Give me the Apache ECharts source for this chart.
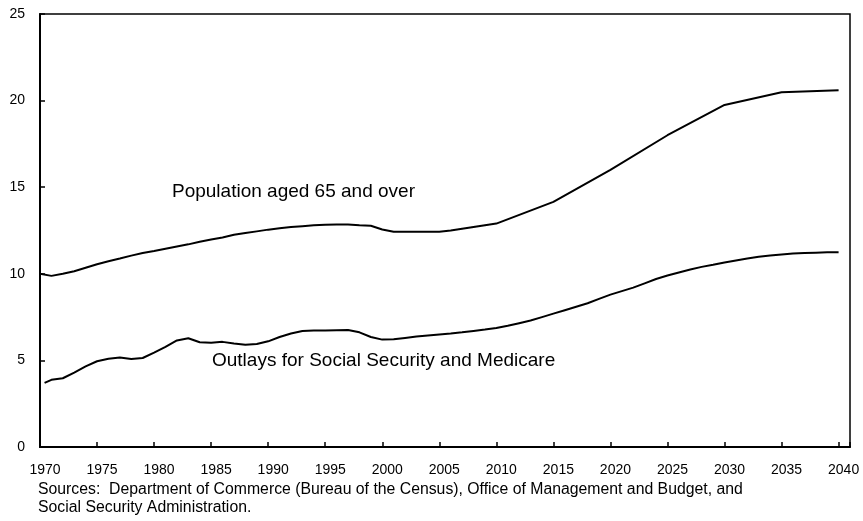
<!DOCTYPE html>
<html>
<head>
<meta charset="utf-8">
<script src="https://cdn.jsdelivr.net/npm/echarts@6/dist/echarts.min.js"></script>
<style>
html,body{margin:0;padding:0;background:#fff;}
#chart{width:863px;height:521px;}
</style>
</head>
<body>
<div id="chart"></div>
<script>
// Population aged 65 and over (percent)
const popYears = [1970,1971,1972,1973,1974,1975,1976,1977,1978,1979,1980,1981,1982,1983,1984,1985,1986,1987,1988,1989,1990,1991,1992,1993,1994,1995,1996,1997,1998,1999,2000,2001,2002,2003,2004,2005,2006,2007,2008,2009,2010,2015,2020,2025,2030,2035,2040];
const popValues = [10.0,9.88,10.0,10.15,10.35,10.55,10.72,10.88,11.05,11.2,11.32,11.45,11.58,11.7,11.85,11.98,12.1,12.25,12.35,12.45,12.55,12.63,12.7,12.75,12.8,12.83,12.85,12.84,12.8,12.77,12.56,12.43,12.43,12.43,12.43,12.43,12.5,12.6,12.7,12.8,12.9,14.15,16.0,18.0,19.75,20.48,20.6];

// Outlays for Social Security and Medicare (percent)
const outYears = [1970.4,1971,1972,1973,1974,1975,1976,1977,1978,1979,1980,1981,1982,1983,1984,1985,1986,1987,1988,1989,1990,1991,1992,1993,1994,1995,1996,1997,1998,1999,2000,2001,2002,2003,2004,2005,2006,2007,2008,2009,2010,2011,2012,2013,2014,2015,2016,2017,2018,2019,2020,2021,2022,2023,2024,2025,2026,2027,2028,2029,2030,2031,2032,2033,2034,2035,2036,2037,2038,2039,2040];
const outValues = [3.7,3.88,3.97,4.3,4.65,4.95,5.1,5.17,5.08,5.14,5.45,5.78,6.15,6.28,6.05,6.02,6.07,5.98,5.9,5.95,6.1,6.35,6.55,6.7,6.72,6.72,6.74,6.76,6.62,6.35,6.2,6.22,6.3,6.38,6.44,6.5,6.55,6.62,6.7,6.78,6.87,7.0,7.15,7.3,7.5,7.7,7.9,8.1,8.3,8.55,8.8,9.0,9.2,9.45,9.7,9.9,10.08,10.25,10.4,10.52,10.65,10.77,10.88,10.98,11.05,11.12,11.17,11.2,11.22,11.24,11.25];

const popLabel = 'Population aged 65 and over';
const outLabel = 'Outlays for Social Security and Medicare';
const sourceText = 'Sources:  Department of Commerce (Bureau of the Census), Office of Management and Budget, and\nSocial Security Administration.';

const FONT = '"Liberation Sans", Arial, sans-serif';

const chart = echarts.init(document.getElementById('chart'));
chart.setOption({
  animation: false,
  backgroundColor: '#ffffff',
  grid: {left: 40, right: 13, top: 14, bottom: 74, show: true, borderColor: '#000', borderWidth: 1.5, backgroundColor: 'transparent'},
  xAxis: {
    type: 'value', min: 1970, max: 2041, interval: 5,
    axisLine: {show: true, lineStyle: {color: '#000', width: 2}},
    axisTick: {show: true, inside: true, length: 5, lineStyle: {color: '#000', width: 1.5}},
    splitLine: {show: false},
    axisLabel: {color: '#000', fontFamily: FONT, fontSize: 14, margin: 16, padding: [0, 0, 0, 10],
      formatter: v => (v % 5 === 0 ? String(v) : '')}
  },
  yAxis: {
    type: 'value', min: 0, max: 25, interval: 5,
    axisLine: {show: true, lineStyle: {color: '#000', width: 2}},
    axisTick: {show: true, inside: true, length: 5, lineStyle: {color: '#000', width: 1.5}},
    splitLine: {show: false},
    axisLabel: {color: '#000', fontFamily: FONT, fontSize: 14, margin: 15}
  },
  series: [
    {type: 'line', data: popYears.map((y, i) => [y, popValues[i]]), showSymbol: false,
     lineStyle: {color: '#000', width: 2}, smooth: false},
    {type: 'line', data: outYears.map((y, i) => [y, outValues[i]]), showSymbol: false,
     lineStyle: {color: '#000', width: 2}, smooth: false}
  ],
  graphic: [
    {type: 'text', x: 172, y: 192, style: {text: popLabel, font: '19px ' + FONT, fill: '#000', textVerticalAlign: 'middle'}},
    {type: 'text', x: 212, y: 361, style: {text: outLabel, font: '19px ' + FONT, fill: '#000', textVerticalAlign: 'middle'}},
    {type: 'text', x: 38, y: 481, style: {text: sourceText, font: '15.8px ' + FONT, fill: '#000', lineHeight: 18}}
  ]
});
</script>
</body>
</html>
